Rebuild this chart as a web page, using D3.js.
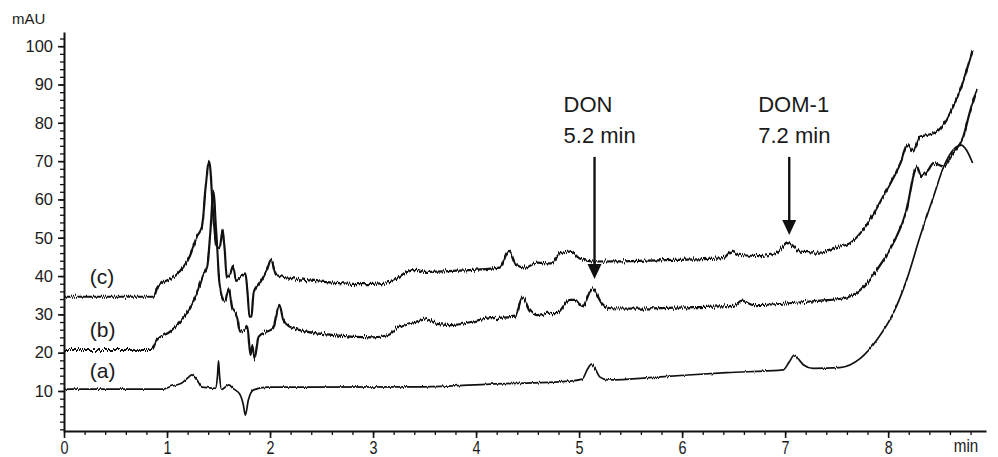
<!DOCTYPE html>
<html>
<head>
<meta charset="utf-8">
<script src="https://cdn.jsdelivr.net/npm/d3@7"></script>
<style>
  body { margin: 0; background: #fff; }
  text { font-family: Arial, "Liberation Sans", Helvetica, sans-serif; fill: #1a1a1a; }
</style>
</head>
<body>
<div id="chart"></div>
<script>
// retention time (min) / absorbance (mAU)
var traceA = [
  [0.00, 10.5], [0.50, 10.5], [0.96, 10.5], [1.05, 11.3], [1.14, 12.0], [1.20, 13.4], [1.24, 14.2],
  [1.29, 12.9], [1.34, 11.0], [1.47, 10.7], [1.49, 14.0], [1.50, 17.9], [1.51, 14.0], [1.53, 10.4],
  [1.60, 11.6], [1.64, 10.7], [1.71, 9.0], [1.74, 6.5], [1.76, 3.7], [1.79, 7.7], [1.84, 10.3],
  [1.97, 11.0], [2.29, 11.0], [3.49, 11.1], [4.14, 11.8], [4.91, 12.6], [5.03, 13.1], [5.08, 15.6],
  [5.12, 17.0], [5.16, 15.6], [5.20, 13.7], [5.28, 12.9], [5.79, 13.7], [6.43, 14.8], [6.98, 15.5],
  [7.04, 17.6], [7.09, 19.4], [7.14, 18.0], [7.18, 16.8], [7.27, 15.9], [7.53, 16.1], [7.73, 18.5],
  [7.89, 23.3], [8.05, 30.3], [8.18, 39.0], [8.31, 50.3], [8.44, 60.7], [8.54, 68.6], [8.63, 72.9],
  [8.71, 74.2], [8.76, 72.9], [8.82, 69.5]
];

var traceB = [
  [0.00, 20.7], [0.50, 20.7], [0.85, 20.7], [0.90, 23.3], [1.03, 25.5], [1.19, 30.3], [1.29, 35.5],
  [1.35, 40.3], [1.39, 42.5], [1.42, 51.2], [1.45, 62.0], [1.48, 50.3], [1.51, 38.1], [1.56, 33.3],
  [1.60, 36.8], [1.63, 32.0], [1.68, 29.4], [1.71, 25.5], [1.75, 25.9], [1.78, 26.8], [1.81, 19.4],
  [1.83, 22.0], [1.85, 18.5], [1.89, 24.2], [1.97, 25.5], [2.03, 26.4], [2.09, 32.5], [2.13, 28.5],
  [2.19, 26.8], [2.29, 25.9], [2.61, 24.6], [3.00, 24.0], [3.15, 24.6], [3.23, 26.4], [3.42, 28.1],
  [3.52, 28.7], [3.62, 27.5], [3.75, 27.2], [4.14, 29.0], [4.38, 29.4], [4.45, 34.5], [4.52, 31.1],
  [4.59, 29.8], [4.70, 30.4], [4.78, 30.3], [4.91, 33.8], [4.96, 33.8], [5.03, 31.9], [5.13, 36.8],
  [5.22, 32.9], [5.30, 31.6], [5.53, 31.5], [6.11, 31.9], [6.50, 32.2], [6.58, 33.6], [6.69, 32.4],
  [7.34, 33.6], [7.57, 34.2], [7.73, 36.4], [7.89, 41.6], [8.05, 48.6], [8.18, 57.3], [8.26, 67.7],
  [8.28, 68.6], [8.32, 66.1], [8.39, 67.7], [8.44, 69.5], [8.54, 68.6], [8.63, 72.1], [8.73, 76.4],
  [8.79, 82.5], [8.86, 88.6]
];

var traceC = [
  [0.00, 34.6], [0.50, 34.6], [0.87, 34.6], [0.91, 37.2], [1.09, 40.3], [1.22, 45.1], [1.29, 50.3],
  [1.34, 52.9], [1.37, 61.6], [1.41, 69.9], [1.45, 55.5], [1.48, 47.7], [1.51, 47.3], [1.54, 52.0],
  [1.56, 46.8], [1.58, 39.8], [1.61, 40.3], [1.64, 42.6], [1.67, 39.0], [1.72, 40.0], [1.76, 40.7],
  [1.78, 36.4], [1.80, 29.4], [1.82, 29.4], [1.84, 35.5], [1.90, 38.1], [1.97, 41.6], [2.01, 44.2],
  [2.06, 40.3], [2.23, 39.4], [2.52, 38.5], [2.94, 37.9], [3.17, 38.5], [3.33, 41.1], [3.42, 41.6],
  [3.50, 41.1], [3.81, 41.4], [4.23, 42.2], [4.32, 46.6], [4.39, 42.9], [4.48, 42.2], [4.59, 43.5],
  [4.73, 43.3], [4.82, 46.0], [4.91, 46.4], [5.01, 44.5], [5.14, 43.8], [5.50, 43.9], [5.92, 44.2],
  [6.40, 44.7], [6.48, 46.4], [6.56, 45.5], [6.76, 45.2], [6.92, 46.1], [7.03, 48.6], [7.15, 46.4],
  [7.34, 46.1], [7.47, 47.3], [7.63, 48.6], [7.79, 53.3], [7.95, 60.7], [8.12, 69.5], [8.19, 74.2],
  [8.24, 72.5], [8.31, 76.4], [8.38, 76.8], [8.49, 78.1], [8.60, 82.5], [8.70, 88.6], [8.82, 99.0]
];

var traces = [traceA, traceB, traceC];
var traceLabels = ["(a)", "(b)", "(c)"];
var traceLabelAt = [[0.25, 13.4], [0.25, 24.1], [0.25, 37.9]];

// peak annotations: name, retention time text, arrow x, arrow top, arrow tip
var peakNames = ["DON", "DOM-1"];
var peakTimes = ["5.2 min", "7.2 min"];
var arrowX = [5.15, 7.04];
var arrowTop = [71.1, 71.1];
var arrowTip = [39.2, 50.7];

var xTicks = [0, 1, 2, 3, 4, 5, 6, 7, 8];
var yTicks = [10, 20, 30, 40, 50, 60, 70, 80, 90, 100];

var svgWidth = 998;
var svgHeight = 457;

var margin = { top: 32, right: 12, bottom: 26, left: 64 };
var height = svgHeight - margin.top - margin.bottom;

var svg = d3.select("#chart")
  .append("svg")
  .attr("width", svgWidth)
  .attr("height", svgHeight);

// detector noise look: shift the drawn line up/down column by column
var defs = svg.append("defs");
function jitterFilter(id, amount) {
  var f = defs.append("filter")
    .attr("id", id)
    .attr("filterUnits", "userSpaceOnUse")
    .attr("x", 0).attr("y", 0)
    .attr("width", svgWidth).attr("height", svgHeight)
    .attr("color-interpolation-filters", "sRGB");
  f.append("feTurbulence")
    .attr("type", "fractalNoise")
    .attr("baseFrequency", "0.9 0.03")
    .attr("numOctaves", 1)
    .attr("seed", 7)
    .attr("result", "noise");
  f.append("feColorMatrix")
    .attr("in", "noise")
    .attr("type", "matrix")
    .attr("values", "0 0 0 0 0.5  0 1 0 0 0  0 0 0 0 0  0 0 0 0 1")
    .attr("result", "shift");
  f.append("feDisplacementMap")
    .attr("in", "SourceGraphic")
    .attr("in2", "shift")
    .attr("scale", amount)
    .attr("xChannelSelector", "R")
    .attr("yChannelSelector", "G");
}
jitterFilter("jitterA", 3);
jitterFilter("jitterBC", 7);

var xScale = d3.scaleLinear()
  .domain([0, 8.95])
  .range([margin.left, 986]);

var yScale = d3.scaleLinear()
  .domain([-0.44, 103.7])
  .range([margin.top + height, margin.top]);

// minor ticks first, majors on top
var xMinor = d3.range(0, 8.81, 0.2);
var yMinor = d3.range(0, 102.1, 2);

svg.append("g")
  .attr("transform", `translate(0, ${margin.top + height})`)
  .call(d3.axisBottom(xScale).tickValues(xMinor).tickSize(4).tickFormat(""))
  .call(g => g.select(".domain").remove())
  .selectAll("line").attr("stroke", "#111").attr("stroke-width", 1.3);

svg.append("g")
  .attr("transform", `translate(${margin.left}, 0)`)
  .call(d3.axisLeft(yScale).tickValues(yMinor).tickSize(4).tickFormat(""))
  .call(g => g.select(".domain").remove())
  .selectAll("line").attr("stroke", "#111").attr("stroke-width", 1.3);

var xAxis = svg.append("g")
  .attr("transform", `translate(0, ${margin.top + height})`)
  .call(d3.axisBottom(xScale).tickValues(xTicks).tickSize(7).tickSizeOuter(0).tickPadding(3));

xAxis.select(".domain").attr("stroke", "#111").attr("stroke-width", 2);
xAxis.selectAll("line").attr("stroke", "#111").attr("stroke-width", 1.6);
// condensed look of the time labels
xAxis.selectAll("text")
  .attr("transform", "scale(0.8, 1)")
  .style("font-size", "18px");

var yAxis = svg.append("g")
  .attr("transform", `translate(${margin.left}, 0)`)
  .call(d3.axisLeft(yScale).tickValues(yTicks).tickSize(6).tickSizeOuter(0).tickPadding(5));

yAxis.select(".domain").attr("stroke", "#111").attr("stroke-width", 2);
yAxis.selectAll("line").attr("stroke", "#111").attr("stroke-width", 1.6);
yAxis.selectAll("text").style("font-size", "16.5px");

// axis units
svg.append("text")
  .attr("x", 12)
  .attr("y", 24)
  .style("font-size", "15px")
  .text("mAU");

svg.append("text")
  .attr("transform", "translate(966, 452) scale(0.8, 1)")
  .attr("text-anchor", "middle")
  .style("font-size", "19px")
  .text("min");

// chromatogram traces
var line = d3.line()
  .x(d => xScale(d[0]))
  .y(d => yScale(d[1]))
  .curve(d3.curveMonotoneX);

svg.append("g")
  .selectAll("path")
  .data(traces)
  .enter()
  .append("path")
  .attr("d", line)
  .attr("fill", "none")
  .attr("stroke", "#111")
  .attr("stroke-width", (d, i) => i === 0 ? 1.7 : 2.2)
  .attr("stroke-linejoin", "round")
  .attr("filter", (d, i) => i === 0 ? "url(#jitterA)" : "url(#jitterBC)");

svg.append("g")
  .selectAll("text")
  .data(traceLabels)
  .enter()
  .append("text")
  .attr("x", (d, i) => xScale(traceLabelAt[i][0]))
  .attr("y", (d, i) => yScale(traceLabelAt[i][1]))
  .style("font-size", "21px")
  .text(d => d);

// arrows marking DON and DOM-1
var ann = svg.append("g");

peakNames.forEach(function(name, i) {
  var ax = xScale(arrowX[i]);
  var tipY = yScale(arrowTip[i]);

  ann.append("text")
    .attr("x", ax - 31)
    .attr("y", 112)
    .style("font-size", "22px")
    .text(name);

  ann.append("text")
    .attr("x", ax - 31)
    .attr("y", 143)
    .style("font-size", "22px")
    .text(peakTimes[i]);

  ann.append("line")
    .attr("x1", ax).attr("x2", ax)
    .attr("y1", yScale(arrowTop[i]))
    .attr("y2", tipY - 10)
    .attr("stroke", "#111")
    .attr("stroke-width", 2.4);

  ann.append("path")
    .attr("d", `M${ax - 7},${tipY - 15} L${ax + 7},${tipY - 15} L${ax},${tipY} Z`)
    .attr("fill", "#111");
});
</script>
</body>
</html>
